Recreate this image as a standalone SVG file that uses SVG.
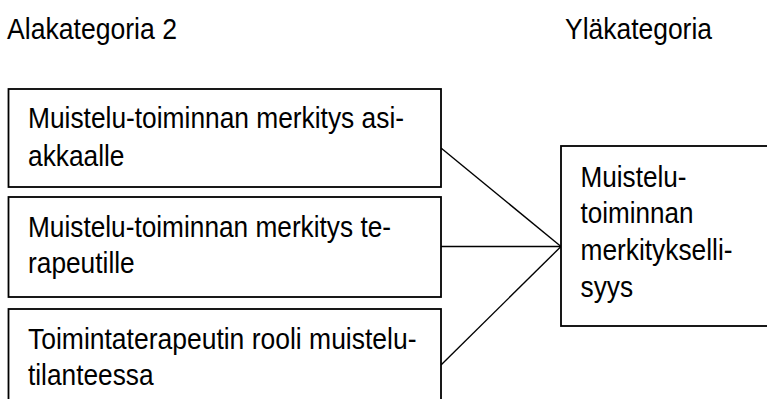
<svg xmlns="http://www.w3.org/2000/svg" width="767" height="399" viewBox="0 0 767 399">
  <style>
    .box { fill: #ffffff; stroke: #000000; stroke-width: 1.8; }
    .link { stroke: #000000; stroke-width: 1.4; fill: none; }
    text { font-family: "Liberation Sans", Arial, sans-serif; font-size: 29px; fill: #000000; }
  </style>
  <rect width="767" height="399" fill="#ffffff"/>

  <g id="headers">
    <text x="7" y="38.5" textLength="170" lengthAdjust="spacingAndGlyphs">Alakategoria 2</text>
    <text x="565" y="38.5" textLength="147" lengthAdjust="spacingAndGlyphs">Yläkategoria</text>
  </g>

  <g id="connectors">
    <line class="link" x1="441" y1="148" x2="561" y2="246.5"/>
    <line class="link" x1="441" y1="246.5" x2="561" y2="246.5"/>
    <line class="link" x1="441" y1="365" x2="561" y2="246.5"/>
  </g>

  <g id="sub1">
    <rect class="box" x="8.5" y="89" width="432.5" height="98"/>
    <text x="28" y="128.3" textLength="376" lengthAdjust="spacingAndGlyphs">Muistelu-toiminnan merkitys asi-</text>
    <text x="28" y="166" textLength="96.5" lengthAdjust="spacingAndGlyphs">akkaalle</text>
  </g>

  <g id="sub2">
    <rect class="box" x="8.5" y="197" width="432.5" height="100"/>
    <text x="28" y="236.7" textLength="363" lengthAdjust="spacingAndGlyphs">Muistelu-toiminnan merkitys te-</text>
    <text x="28" y="272.7" textLength="106.7" lengthAdjust="spacingAndGlyphs">rapeutille</text>
  </g>

  <g id="sub3">
    <rect class="box" x="8.5" y="309" width="432.5" height="110"/>
    <text x="28" y="349.3" textLength="388.5" lengthAdjust="spacingAndGlyphs">Toimintaterapeutin rooli muistelu-</text>
    <text x="28" y="385" textLength="125.5" lengthAdjust="spacingAndGlyphs">tilanteessa</text>
  </g>

  <g id="main">
    <rect class="box" x="561" y="146" width="230" height="180"/>
    <text x="580.5" y="186.5" textLength="106" lengthAdjust="spacingAndGlyphs">Muistelu-</text>
    <text x="580.5" y="223" textLength="113" lengthAdjust="spacingAndGlyphs">toiminnan</text>
    <text x="580.5" y="260" textLength="152" lengthAdjust="spacingAndGlyphs">merkitykselli-</text>
    <text x="580.5" y="296.7" textLength="52.6" lengthAdjust="spacingAndGlyphs">syys</text>
  </g>
</svg>
